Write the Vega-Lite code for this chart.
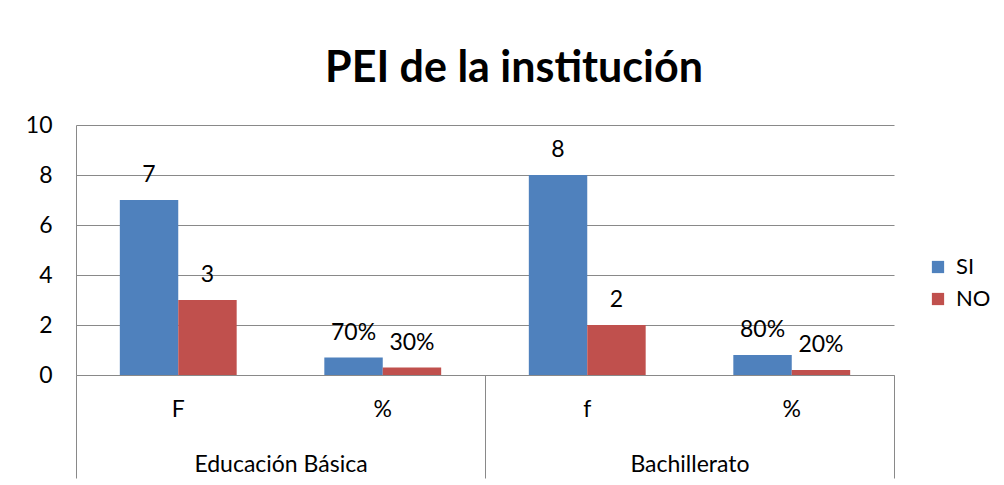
{
  "$schema": "https://vega.github.io/schema/vega-lite/v6.json",
  "width": 818,
  "height": 250,
  "autosize": {"type": "none"},
  "padding": {"left": 76, "top": 125, "right": 110, "bottom": 110},
  "background": "white",
  "config": {"font": "Lato", "view": {"stroke": null}, "text": {"font": "Lato"}},
  "title": {"text": "PEI de la institución", "fontSize": 43, "fontWeight": "bold", "color": "black", "font": "Lato", "frame": "group", "anchor": "middle", "dx": 29, "offset": 9},
  "data": {
    "values": [
      {"grupo": "Educación Básica", "clave": "Educación Básica|F", "serie": "SI", "valor": 7, "etiqueta": "7"},
      {"grupo": "Educación Básica", "clave": "Educación Básica|F", "serie": "NO", "valor": 3, "etiqueta": "3"},
      {"grupo": "Educación Básica", "clave": "Educación Básica|%", "serie": "SI", "valor": 0.7, "etiqueta": "70%"},
      {"grupo": "Educación Básica", "clave": "Educación Básica|%", "serie": "NO", "valor": 0.3, "etiqueta": "30%"},
      {"grupo": "Bachillerato", "clave": "Bachillerato|f", "serie": "SI", "valor": 8, "etiqueta": "8"},
      {"grupo": "Bachillerato", "clave": "Bachillerato|f", "serie": "NO", "valor": 2, "etiqueta": "2"},
      {"grupo": "Bachillerato", "clave": "Bachillerato|%", "serie": "SI", "valor": 0.8, "etiqueta": "80%"},
      {"grupo": "Bachillerato", "clave": "Bachillerato|%", "serie": "NO", "valor": 0.2, "etiqueta": "20%"}
    ]
  },
  "layer": [
    {
      "mark": {"type": "bar"},
      "encoding": {
        "x": {"field": "clave", "type": "nominal", "sort": null, "scale": {"paddingInner": 0, "paddingOuter": 0},
          "axis": {"title": null, "orient": "bottom", "labelAngle": 0, "labelFontSize": 23, "labelColor": "black", "ticks": false, "labelPadding": 23, "domainColor": "#898989", "labelExpr": "split(datum.value,'|')[1]"}},
        "xOffset": {"field": "serie", "type": "nominal", "sort": ["SI", "NO"], "scale": {"paddingInner": 0, "paddingOuter": 0.75}},
        "y": {"field": "valor", "type": "quantitative", "scale": {"domain": [0, 10]},
          "axis": {"title": null, "values": [0, 2, 4, 6, 8, 10], "labelFontSize": 23, "labelColor": "black", "ticks": false, "labelPadding": 24, "domainColor": "#898989", "gridColor": "#898989", "gridOpacity": 1}},
        "color": {"field": "serie", "type": "nominal", "sort": ["SI", "NO"], "scale": {"domain": ["SI", "NO"], "range": ["#4F81BD", "#C0504D"]},
          "legend": {"title": null, "orient": "none", "legendX": 851, "legendY": 131, "symbolType": "square", "symbolSize": 150, "symbolStrokeWidth": 0, "labelFontSize": 22, "labelColor": "black", "rowPadding": 10, "labelOffset": 7}}
      }
    },
    {
      "mark": {"type": "text", "baseline": "alphabetic", "dy": -18, "fontSize": 23, "color": "black"},
      "encoding": {
        "x": {"field": "clave", "type": "nominal", "sort": null, "scale": {"paddingInner": 0, "paddingOuter": 0}, "axis": null},
        "xOffset": {"field": "serie", "type": "nominal", "sort": ["SI", "NO"], "scale": {"paddingInner": 0, "paddingOuter": 0.75}},
        "y": {"field": "valor", "type": "quantitative"},
        "text": {"field": "etiqueta", "type": "nominal"}
      }
    },
    {
      "mark": {"type": "bar", "opacity": 0},
      "encoding": {
        "x": {"field": "grupo", "type": "nominal", "sort": null, "scale": {"paddingInner": 0, "paddingOuter": 0},
          "axis": {"title": null, "orient": "bottom", "domain": false, "ticks": true, "tickBand": "extent", "tickSize": 103, "tickColor": "#898989", "labelAngle": 0, "labelFontSize": 23, "labelColor": "black", "labelPadding": -25, "grid": false}},
        "y": {"field": "valor", "type": "quantitative"}
      }
    }
  ],
  "resolve": {"scale": {"x": "independent"}, "axis": {"x": "independent"}}
}
